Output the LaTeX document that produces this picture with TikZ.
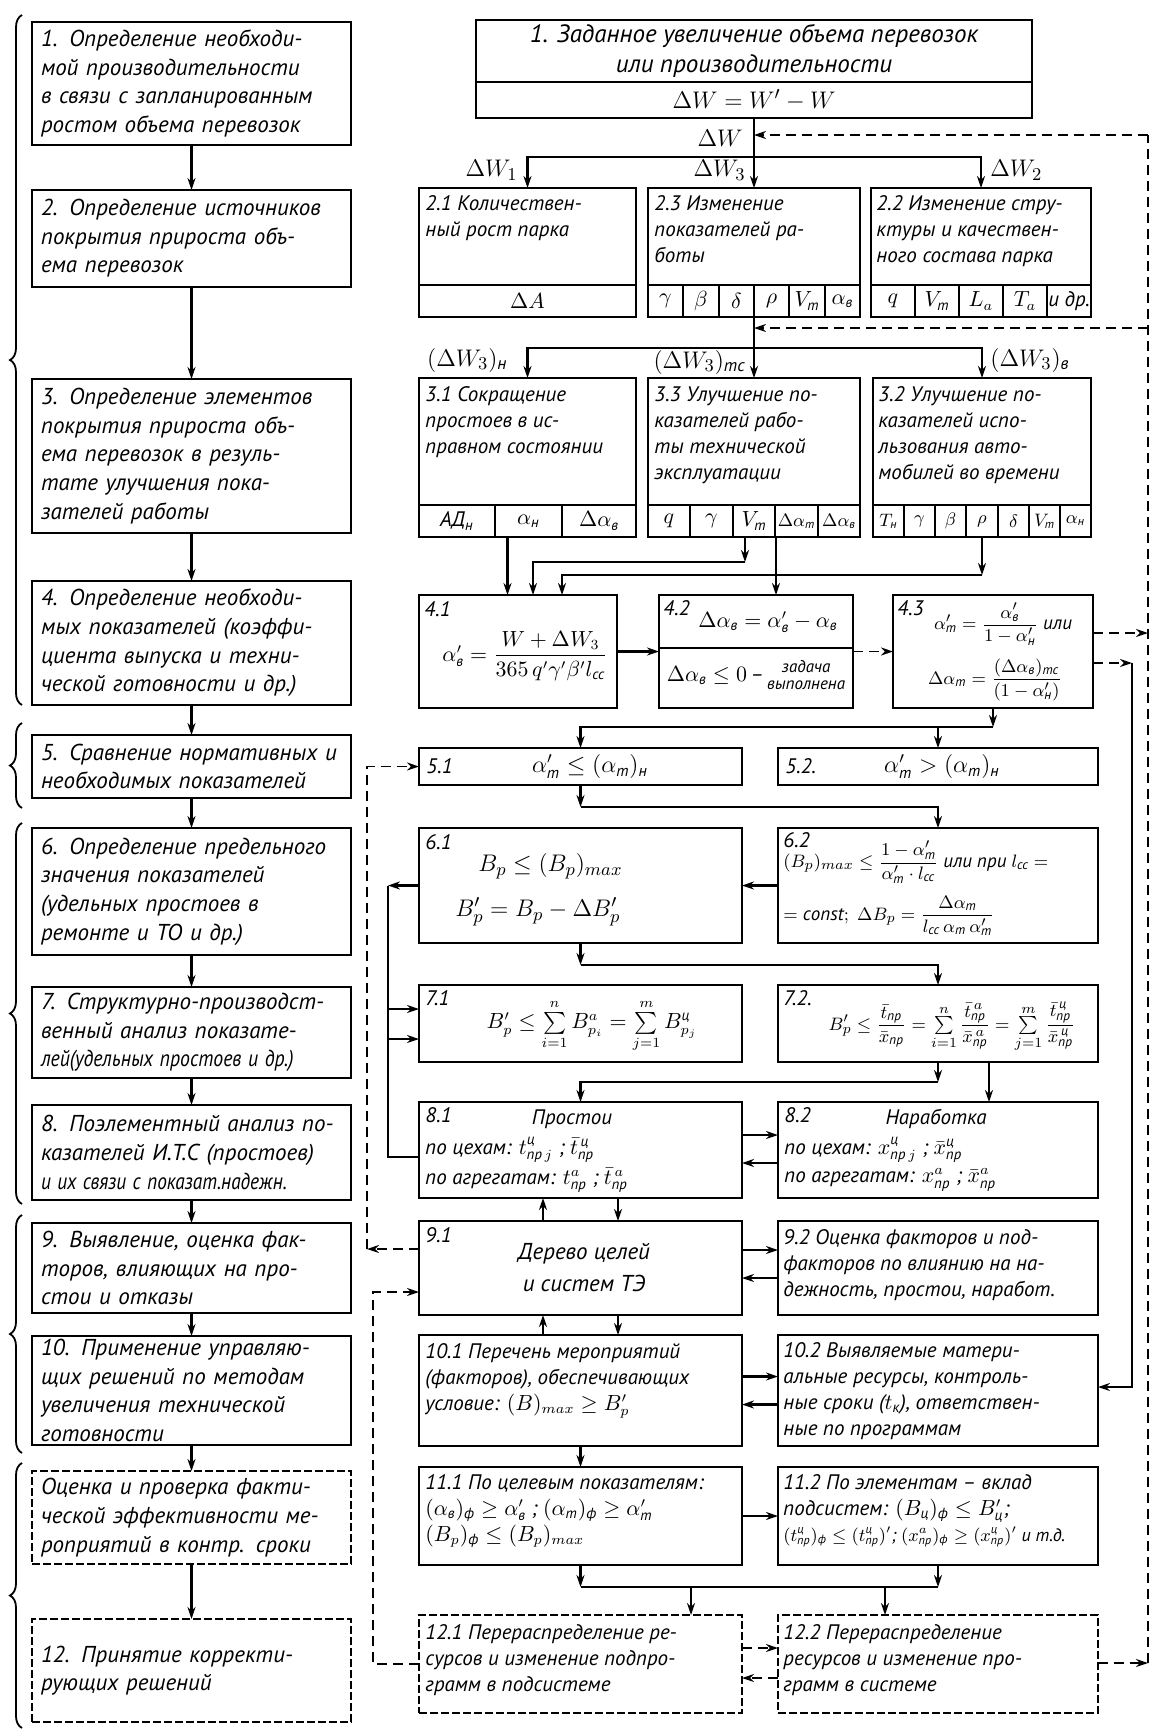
\documentclass[tikz,border=0pt]{standalone}
\usepackage{amsmath}
\usepackage{graphicx}
\usepackage{fontspec}
\setmainfont{PT Sans}
\usetikzlibrary{arrows.meta,decorations.pathreplacing,calc}
\newcommand{\ct}[1]{\text{#1}}
\newcommand{\sq}[2][0.85]{\scalebox{#1}[1]{#2}}
\tikzset{
 box/.style={draw, line width=1.4pt, inner sep=0pt, outer sep=0pt, anchor=north west},
 dbox/.style={draw, line width=0.9pt, dash pattern=on 4pt off 1.5pt, inner sep=0pt, outer sep=0pt, anchor=north west},
 lbox/.style={draw, line width=1.4pt, inner xsep=4.5pt, inner ysep=0pt, outer sep=0pt, minimum width=159.5pt, text width=150.5pt, align=left, font=\fontsize{11.5}{14.3}\selectfont\itshape},
 ldash/.style={line width=0.9pt, dash pattern=on 4pt off 1.5pt},
 rtxt/.style={font=\fontsize{10.5}{13}\selectfont\itshape, align=left, inner sep=0pt, anchor=north west},
 num/.style={font=\fontsize{10.5}{13}\selectfont\itshape, inner sep=0pt, anchor=north west},
 fml/.style={font=\fontsize{10.5}{13}\selectfont\itshape, inner sep=0pt},
 cell/.style={font=\fontsize{10.5}{12}\selectfont\itshape, inner sep=0pt},
 scell/.style={font=\fontsize{9}{11}\selectfont\itshape, inner sep=0pt},
 lbl/.style={font=\fontsize{12.5}{15}\selectfont\itshape, inner sep=1pt},
 arr/.style={line width=1.1pt, -{Stealth[length=6pt,width=4pt]}},
 ln/.style={line width=1.1pt},
 thin/.style={line width=1pt},
 darr/.style={line width=0.9pt, dash pattern=on 5pt off 3pt, -{Stealth[length=6pt,width=4pt]}},
 dln/.style={line width=0.9pt, dash pattern=on 5pt off 3pt},
 brc/.style={line width=0.9pt, decorate, decoration={brace, amplitude=6pt, aspect=0.5}},
}
\begin{document}
\begin{tikzpicture}[x=0.5pt,y=-0.5pt]
\fill[white] (0,0) rectangle (1160,1731);
\useasboundingbox (0,0) rectangle (1160,1731);

% ---------------- left column ----------------
\node[lbox, minimum height=61.5pt] (L1) at (191.5,83.5) {1. Определение необходи-\\мой производительности\\в связи с запланированным\\ростом объема перевозок};
\node[lbox, minimum height=48.5pt] (L2) at (191.5,238.5) {2. Определение источников\\покрытия прироста объ-\\ема перевозок};
\node[lbox, minimum height=77pt] (L3) at (191.5,456) {3. Определение элементов\\покрытия прироста объ-\\ема перевозок в резуль-\\тате улучшения пока-\\зателей работы};
\node[lbox, minimum height=62pt] (L4) at (191.5,643) {4. Определение необходи-\\мых показателей (коэффи-\\циента выпуска и техни-\\ческой готовности и др.)};
\node[lbox, minimum height=31.5pt] (L5) at (191.5,766.5) {5. Сравнение нормативных и\\необходимых показателей};
\node[lbox, minimum height=63.5pt] (L6) at (191.5,891.5) {6. Определение предельного\\значения показателей\\(удельных простоев в\\ремонте и ТО и др.)};
\node[lbox, minimum height=45.5pt] (L7) at (191.5,1032.5) {7. Структурно-производст-\\венный анализ показате-\\\sq[0.86]{лей(удельных простоев и др.)}};
\node[lbox, minimum height=47.5pt] (L8) at (191.5,1152.5) {8. Поэлементный анализ по-\\казателей И.Т.С (простоев)\\\sq[0.84]{и их связи с показат.надежн.}};
\node[lbox, minimum height=45pt] (L9) at (191.5,1268) {9. Выявление, оценка фак-\\торов, влияющих на про-\\стои и отказы};
\node[lbox, minimum height=54.5pt] (L10) at (191.5,1390.5) {10. Применение управляю-\\щих решений по методам\\увеличения технической\\готовности};
\node[lbox, ldash, minimum height=46.5pt] (L11) at (191.5,1517.5) {Оценка и проверка факти-\\ческой эффективности ме-\\роприятий в контр. сроки};
\node[lbox, ldash, minimum height=51.5pt] (L12) at (191.5,1670.5) {12. Принятие корректи-\\рующих решений};
\foreach \a/\b in {L1/L2,L2/L3,L3/L4,L4/L5,L5/L6,L6/L7,L7/L8,L8/L9,L9/L10,L10/L11,L11/L12}
  \draw[arr] (\a.south) -- (\b.north);

\draw[brc] (22,705) -- (22,15);
\draw[brc] (22,808) -- (22,723);
\draw[brc] (22,1204) -- (22,823);
\draw[brc] (22,1453) -- (22,1215);
\draw[brc] (22,1728) -- (22,1463);

% ---------------- right: top ----------------
\node[box, minimum width=278pt, minimum height=49pt] (R1) at (476,20) {};
\draw[thin] (476,82) -- (1032,82);
\node[font=\fontsize{12.5}{15}\selectfont\itshape, align=center, inner sep=0pt] (R1t) at (754,51) {1. Заданное увеличение объема перевозок\\или производительности};
\node[lbl] (R1f) at (754,100) {$\Delta W = W' - W$};

\node[box, minimum width=108.5pt, minimum height=64.5pt] (R21) at (419,188) {};
\node[box, minimum width=106pt, minimum height=64.5pt] (R23) at (648,188) {};
\node[box, minimum width=110pt, minimum height=64.5pt] (R22) at (871,188) {};
\node[rtxt] (t21) at (425,195) {2.1 Количествен-\\ный рост парка};
\node[rtxt] (t23) at (654,195) {2.3 Изменение\\показателей ра-\\боты};
\node[rtxt] (t22) at (876,195) {2.2 Изменение стру-\\ктуры и качествен-\\ного состава парка};
\draw[thin] (419,285) -- (636,285);
\draw[thin] (648,285) -- (860,285);
\foreach \x in {683,719,754,789,825} \draw[thin] (\x,285) -- (\x,317);
\draw[thin] (871,285) -- (1091,285);
\foreach \x in {915,959,1003,1047} \draw[thin] (\x,285) -- (\x,317);
\node[cell] (c21a) at (527.5,301) {$\Delta A$};
\node[cell] (c23a) at (665.5,301) {$\gamma$};
\node[cell] (c23b) at (701,301) {$\beta$};
\node[cell] (c23c) at (736.5,301) {$\delta$};
\node[cell] (c23d) at (771.5,301) {$\rho$};
\node[cell] (c23e) at (807,301) {$V_{\ct{т}}$};
\node[cell] (c23f) at (842.5,301) {$\alpha_{\ct{в}}$};
\node[cell] (c22a) at (893,301) {$q$};
\node[cell] (c22b) at (937,301) {$V_{\ct{т}}$};
\node[cell] (c22c) at (981,301) {$L_a$};
\node[cell] (c22d) at (1025,301) {$T_a$};
\node[cell] (c22e) at (1069,301) {и др.};

\coordinate (b1) at (0,157);
\coordinate (b2) at (0,348);
\draw[arr] (R1.south) -- (R1.south |- R23.north);
\draw[arr] (R1.south |- b1) -| (R21.north);
\draw[arr] (R1.south |- b1) -| (R22.north);
\node[lbl, anchor=east] (lw) at (745,138) {$\Delta W$};
\node[lbl, anchor=east] (lw1) at (520,170) {$\Delta W_1$};
\node[lbl, anchor=east] (lw3) at (748,170) {$\Delta W_3$};
\node[lbl, anchor=west] (lw2) at (988,170) {$\Delta W_2$};

% ---------------- right: level 3 ----------------
\node[box, minimum width=108.5pt, minimum height=79.5pt] (R31) at (419,378) {};
\node[box, minimum width=106pt, minimum height=79.5pt] (R33) at (648,378) {};
\node[box, minimum width=109pt, minimum height=79.5pt] (R32) at (873,378) {};
\node[rtxt] (t31) at (425,386) {3.1 Сокращение\\простоев в ис-\\правном состоянии};
\node[rtxt] (t33) at (654,386) {3.3 Улучшение по-\\казателей рабо-\\ты технической\\эксплуатации};
\node[rtxt] (t32) at (878,386) {3.2 Улучшение по-\\казателей испо-\\льзования авто-\\мобилей во времени};
\draw[thin] (419,505) -- (636,505);
\foreach \x in {495,562} \draw[thin] (\x,505) -- (\x,537);
\draw[thin] (648,505) -- (860,505);
\foreach \x in {690,733,775,818} \draw[thin] (\x,505) -- (\x,537);
\draw[thin] (873,505) -- (1091,505);
\foreach \x in {904,935,966,998,1029,1060} \draw[thin] (\x,505) -- (\x,537);
\node[cell] (c31a) at (457,521) {АД$_{\ct{н}}$};
\node[cell] (c31b) at (528.5,521) {$\alpha_{\ct{н}}$};
\node[cell] (c31c) at (599,521) {$\Delta\alpha_{\ct{в}}$};
\node[cell] (c33a) at (669,521) {$q$};
\node[cell] (c33b) at (711.5,521) {$\gamma$};
\node[cell] (c33c) at (754,521) {$V_{\ct{т}}$};
\node[scell] (c33d) at (796.5,521) {$\Delta\alpha_{\ct{т}}$};
\node[scell] (c33e) at (839,521) {$\Delta\alpha_{\ct{в}}$};
\node[scell] (c32a) at (888.5,521) {$T_{\ct{н}}$};
\node[scell] (c32b) at (919.5,521) {$\gamma$};
\node[scell] (c32c) at (950.5,521) {$\beta$};
\node[scell] (c32d) at (982,521) {$\rho$};
\node[scell] (c32e) at (1013.5,521) {$\delta$};
\node[scell] (c32f) at (1044.5,521) {$V_{\ct{т}}$};
\node[scell] (c32g) at (1075.5,521) {$\alpha_{\ct{н}}$};

\draw[arr] (R23.south) -- (R33.north);
\draw[arr] (R23.south |- b2) -| (R31.north);
\draw[arr] (R23.south |- b2) -| (R32.north);
\node[lbl, anchor=east] (lw3n) at (510,360) {$(\Delta W_3)_{\ct{н}}$};
\node[lbl, anchor=east] (lw3t) at (748,362) {$(\Delta W_3)_{\ct{тс}}$};
\node[lbl, anchor=west] (lw3b) at (988,360) {$(\Delta W_3)_{\ct{в}}$};

% feedback dashed line on the right
\coordinate (fbT) at (1148,135);
\coordinate (fb2) at (1148,328);
\coordinate (m1) at (1148,633);
\coordinate (fbB) at (1148,1663);
\draw[dln] (fbB) -- (fbT);
\draw[darr] (fbT) -- (fbT -| R1.south);
\draw[darr] (fb2) -- (fb2 -| R23.south);

% ---------------- level 4 ----------------
\node[box, minimum width=99pt, minimum height=56.5pt] (R41) at (419,595) {};
\node[box, minimum width=97pt, minimum height=56.5pt] (R42) at (659,595) {};
\node[box, minimum width=100pt, minimum height=56.5pt] (R43) at (893,595) {};
\draw[thin] (659,648) -- (853,648);
\node[num] (t41) at (424,601) {4.1};
\node[fml] (f41) at (525,656) {$\alpha'_{\ct{в}} = \dfrac{W+\Delta W_3}{365\,q'\gamma'\beta' l_{\ct{сс}}}$};
\node[num] (t42) at (663,600) {4.2};
\node[fml] (f42) at (768,622) {$\Delta\alpha_{\ct{в}} = \alpha'_{\ct{в}} - \alpha_{\ct{в}}$};
\node[fml] (f42b) at (756,677) {$\Delta\alpha_{\ct{в}}\le 0$\,--\,{\fontsize{8.5}{8.5}\selectfont\begin{tabular}{@{}c@{}}задача\\выполнена\end{tabular}}};
\node[num] (t43) at (897,600) {4.3};
\node[fml, font=\fontsize{9.5}{11}\selectfont\itshape] (f43a) at (1003,624) {$\alpha'_{\ct{т}} = \dfrac{\alpha'_{\ct{в}}}{1-\alpha'_{\ct{н}}}$ или};
\node[fml, font=\fontsize{9.5}{11}\selectfont\itshape] (f43b) at (995,680) {$\Delta\alpha_{\ct{т}} = \dfrac{(\Delta\alpha_{\ct{в}})_{\ct{тс}}}{(1-\alpha'_{\ct{н}})}$};

\coordinate (k1) at (745,562);
\coordinate (k2) at (533,562);
\coordinate (k3) at (776,560);
\coordinate (k4) at (982,575);
\coordinate (k5) at (562,575);
\draw[arr] ([xshift=-10pt]R31.south) -- ([xshift=-10pt]R31.south |- R41.north);
\draw[arr] (R33.south -| k1) -- (k1);
\draw[arr] (k1) -- (k2) -- (k2 |- R41.north);
\draw[arr, line width=0.7pt] (R33.south -| k3) -- (k3 |- R42.north);
\draw[arr] (R32.south) -- (R32.south |- k4);
\draw[arr] (k4) -- (k5) -- (k5 |- R41.north);
\draw[arr] (R41.east) -- (R41.east -| R42.west);
\draw[darr] (R42.east) -- (R42.east -| R43.west);

\coordinate (s1) at (1132,663);
\coordinate (s2) at (1132,1387);
\draw[darr] (R43.east |- m1) -- (m1);
\draw[darr] (R43.east |- s1) -- (s1);

% ---------------- level 5 ----------------
\node[box, minimum width=161.5pt, minimum height=18.5pt] (R51) at (419,748) {};
\node[box, minimum width=160pt, minimum height=18.5pt] (R52) at (778,748) {};
\node[num, anchor=west] (t51) at (426,766.5) {5.1};
\node[fml, font=\fontsize{12}{14}\selectfont\itshape] (f51) at (590,766.5) {$\alpha'_{\ct{т}} \le (\alpha_{\ct{т}})_{\ct{н}}$};
\node[num, anchor=west] (t52) at (785,766.5) {5.2.};
\node[fml, font=\fontsize{12}{14}\selectfont\itshape] (f52) at (942,766.5) {$\alpha'_{\ct{т}} > (\alpha_{\ct{т}})_{\ct{н}}$};
\coordinate (n1) at (0,727);
\draw[arr] (R43.south) -- (R43.south |- n1);
\draw[arr] (R43.south |- n1) -| (R51.north);
\draw[arr] (R43.south |- n1) -| (R52.north);

% ---------------- level 6 ----------------
\node[box, minimum width=161.5pt, minimum height=57.5pt] (R61) at (419,828) {};
\node[box, minimum width=160pt, minimum height=57.5pt] (R62) at (778,828) {};
\node[num] (t61) at (425,834) {6.1};
\node[fml, anchor=west, font=\fontsize{12.5}{14}\selectfont\itshape] (f61a) at (478,866) {$B_p \le (B_p)_{max}$};
\node[fml, anchor=west, font=\fontsize{12.5}{14}\selectfont\itshape] (f61b) at (455,912) {$B'_p = B_p - \Delta B'_p$};
\node[num] (t62) at (783,832) {6.2};
\node[fml, anchor=west, font=\fontsize{9.5}{11}\selectfont\itshape] (f62a) at (783,862) {$(B_p)_{max} \le \dfrac{1-\alpha'_{\ct{т}}}{\alpha'_{\ct{т}}\cdot l_{\ct{сс}}}$ или при $l_{\ct{сс}}=$};
\node[fml, anchor=west, font=\fontsize{9.5}{11}\selectfont\itshape] (f62b) at (783,916) {$=\mathit{const};\ \Delta B_p = \dfrac{\Delta\alpha_{\ct{т}}}{l_{\ct{сс}}\,\alpha_{\ct{т}}\,\alpha'_{\ct{т}}}$};
\coordinate (n2) at (0,807);
\draw[arr] (R51.south) -- (R51.south |- n2);
\draw[arr] (R51.south |- n2) -| (R62.north);
\draw[arr] (R62.west) -- (R62.west -| R61.east);

% ---------------- level 7 ----------------
\node[box, minimum width=161.5pt, minimum height=38.5pt] (R71) at (419,985) {};
\node[box, minimum width=160pt, minimum height=38.5pt] (R72) at (778,985) {};
\node[num] (t71) at (425,990) {7.1};
\node[fml] (f71) at (592,1026) {$B'_p \le \sum\limits_{i=1}^{n} B^{a}_{p_i} = \sum\limits_{j=1}^{m} B^{\ct{ц}}_{p_j}$};
\node[num] (t72) at (783,990) {7.2.};
\node[fml, font=\fontsize{9.5}{11}\selectfont\itshape] (f72) at (952,1027) {$B'_p \le \dfrac{\bar t_{\ct{пр}}}{\bar x_{\ct{пр}}} = \sum\limits_{i=1}^{n}\dfrac{\bar t^{\,a}_{\ct{пр}}}{\bar x^{\,a}_{\ct{пр}}} = \sum\limits_{j=1}^{m}\dfrac{\bar t^{\,\ct{ц}}_{\ct{пр}}}{\bar x^{\,\ct{ц}}_{\ct{пр}}}$};
\coordinate (n3) at (0,965);
\draw[arr] (R61.south) -- (R61.south |- n3);
\draw[arr] (R61.south |- n3) -| (R72.north);

% left solid loop 6.1 / 8.1 -> 7.1
\coordinate (v1) at (388,886);
\coordinate (v2) at (388,1009);
\coordinate (v3) at (388,1039);
\coordinate (v4) at (388,1157);

% ---------------- level 8 ----------------
\node[box, minimum width=161.5pt, minimum height=48pt] (R81) at (419,1102) {};
\node[box, minimum width=160pt, minimum height=48pt] (R82) at (778,1102) {};
\node[num] (t81) at (425,1107) {8.1};
\node[rtxt, anchor=center] (t81a) at (572,1119) {Простои};
\node[rtxt, anchor=west] (t81b) at (425,1150) {по цехам: $t^{\ct{ц}}_{\ct{пр}\,j}$ ; $\bar t^{\,\ct{ц}}_{\ct{пр}}$};
\node[rtxt, anchor=west] (t81c) at (425,1180) {по агрегатам: $t^{a}_{\ct{пр}}$ ; $\bar t^{\,a}_{\ct{пр}}$};
\node[num] (t82) at (784,1107) {8.2};
\node[rtxt, anchor=center] (t82a) at (936,1119) {Наработка};
\node[rtxt, anchor=west] (t82b) at (784,1150) {по цехам: $x^{\ct{ц}}_{\ct{пр}\,j}$ ; $\bar x^{\ct{ц}}_{\ct{пр}}$};
\node[rtxt, anchor=west] (t82c) at (784,1180) {по агрегатам: $x^{a}_{\ct{пр}}$ ; $\bar x^{a}_{\ct{пр}}$};
\coordinate (n4) at (0,1082);
\coordinate (n5) at (989,1082);
\draw[arr] (R72.south) -- (R72.south |- n4);
\draw[arr] (R72.south |- n4) -| (R81.north);
\draw[arr] (R72.south -| n5) -- (n5 |- R82.north);
\draw[arr] ([yshift=7.5pt]R81.east) -- ([yshift=7.5pt]R81.east -| R82.west);
\draw[arr] ([yshift=-6.5pt]R82.west) -- ([yshift=-6.5pt]R82.west -| R81.east);

\draw[arr] (R61.west) -- (R61.west -| v1);
\draw[arr] (R61.west -| v1) -- (v2) -- (v2 -| R71.west);
\draw[ln] (v2) -- (v3);
\draw[arr] (v4 -| R81.west) -- (v4) -- (v3) -- (v3 -| R71.west);

% ---------------- level 9 ----------------
\node[box, minimum width=161.5pt, minimum height=47pt] (R91) at (419,1221) {};
\node[box, minimum width=160pt, minimum height=47pt] (R92) at (778,1221) {};
\node[num] (t91) at (425,1227) {9.1};
\node[font=\fontsize{11.5}{16}\selectfont\itshape, align=center, inner sep=0pt] (t91a) at (584,1268) {Дерево целей\\и систем ТЭ};
\node[rtxt] (t92) at (783,1229) {9.2 Оценка факторов и под-\\факторов по влиянию на на-\\дежность, простои, наработ.};
\draw[arr] ([xshift=-18.75pt]R91.north) -- ([xshift=-18.75pt]R81.south);
\draw[arr] ([xshift=18.75pt]R81.south) -- ([xshift=18.75pt]R91.north);
\draw[arr] ([yshift=9pt]R91.east) -- ([yshift=9pt]R91.east -| R92.west);
\draw[arr] ([yshift=-5pt]R92.west) -- ([yshift=-5pt]R92.west -| R91.east);

% dashed loop 9.1 -> 5.1
\coordinate (w3) at (367,1249);
\draw[darr] (R91.west |- w3) -- (w3);
\draw[darr] (w3) -- (w3 |- R51.west) -- (R51.west);

% ---------------- level 10 ----------------
\node[box, minimum width=161.5pt, minimum height=55.5pt] (R101) at (419,1335) {};
\node[box, minimum width=160pt, minimum height=55.5pt] (R102) at (778,1335) {};
\node[rtxt] (t101) at (425,1343) {10.1 Перечень мероприятий\\(факторов), обеспечивающих\\условие: $(B)_{max} \ge B'_p$};
\node[rtxt] (t102) at (783,1342) {10.2 Выявляемые матери-\\альные ресурсы, контроль-\\ные сроки ($t_{\ct{к}}$), ответствен-\\ные по программам};
\draw[arr] ([xshift=-18.75pt]R101.north) -- ([xshift=-18.75pt]R91.south);
\draw[arr] ([xshift=18.75pt]R91.south) -- ([xshift=18.75pt]R101.north);
\draw[arr] ([yshift=7pt]R101.east) -- ([yshift=7pt]R101.east -| R102.west);
\draw[arr] ([yshift=-7pt]R102.west) -- ([yshift=-7pt]R102.west -| R101.east);
\draw[arr] (s1) -- (s2) -- (s2 -| R102.east);

% ---------------- level 11 ----------------
\node[box, minimum width=161.5pt, minimum height=49pt] (R111) at (419,1467) {};
\node[box, minimum width=160pt, minimum height=49pt] (R112) at (778,1467) {};
\node[rtxt] (t111) at (425,1474) {11.1 По целевым показателям:\\$(\alpha_{\ct{в}})_{\ct{ф}} \ge \alpha'_{\ct{в}}$ ; $(\alpha_{\ct{т}})_{\ct{ф}} \ge \alpha'_{\ct{т}}$\\$(B_p)_{\ct{ф}} \le (B_p)_{max}$};
\node[rtxt] (t112) at (783,1474) {11.2 По элементам -- вклад\\подсистем: $(B_{\ct{ц}})_{\ct{ф}} \le B'_{\ct{ц}}$;\\{\fontsize{9}{11}\selectfont $(t^{\ct{ц}}_{\ct{пр}})_{\ct{ф}} \le (t^{\ct{ц}}_{\ct{пр}})'$; $(x^{a}_{\ct{пр}})_{\ct{ф}} \ge (x^{\ct{ц}}_{\ct{пр}})'$ и т.д.}};
\draw[arr] (R101.south) -- (R101.south |- R111.north);
\draw[arr] (R111.east) -- (R111.east -| R112.west);

% ---------------- level 12 ----------------
\node[dbox, minimum width=161.5pt, minimum height=49pt] (R121) at (419,1615) {};
\node[dbox, minimum width=160pt, minimum height=49pt] (R122) at (778,1615) {};
\node[rtxt] (t121) at (425,1624) {12.1 Перераспределение ре-\\сурсов и изменение подпро-\\грамм в подсистеме};
\node[rtxt] (t122) at (783,1624) {12.2 Перераспределение\\ресурсов и изменение про-\\грамм в системе};
\coordinate (n6) at (0,1587);
\coordinate (n7) at (691,1587);
\coordinate (n8) at (885,1587);
\draw[arr] (R111.south) -- (R111.south |- n6);
\draw[arr] (R112.south) -- (R112.south |- n6);
\draw[ln] (R111.south |- n6) -- (R112.south |- n6);
\draw[arr] (n7) -- (n7 |- R121.north);
\draw[arr] (n8) -- (n8 |- R122.north);
\draw[darr] ([yshift=8pt]R121.east) -- ([yshift=8pt]R121.east -| R122.west);
\draw[darr] ([yshift=-7pt]R122.west) -- ([yshift=-7pt]R122.west -| R121.east);
\draw[darr] (R122.east |- fbB) -- (fbB);

% dashed loop 12.1 -> 9.1
\coordinate (w2) at (373,1292);
\draw[darr] (R121.west) -- (R121.west -| w2) -- (w2) -- (w2 -| R91.west);
\end{tikzpicture}
\end{document}
